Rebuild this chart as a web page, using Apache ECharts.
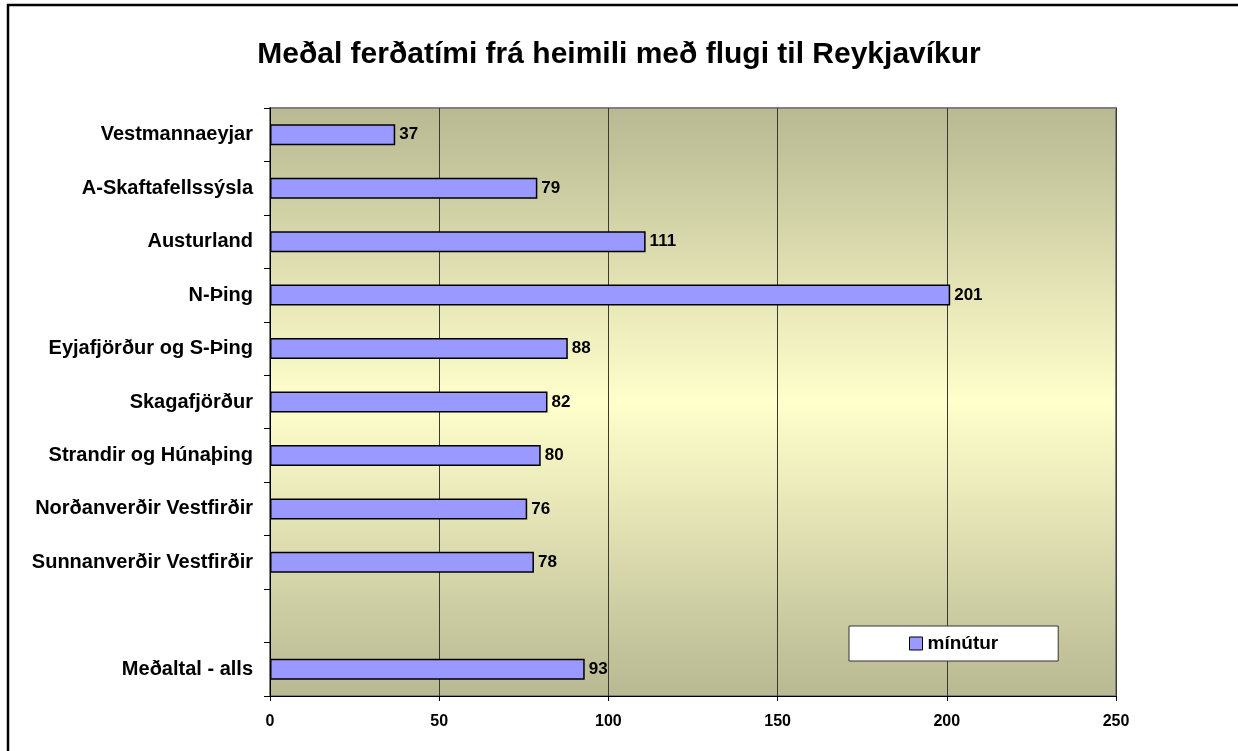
<!DOCTYPE html>
<html>
<head>
<meta charset="utf-8">
<script src="https://cdn.jsdelivr.net/npm/echarts@6/dist/echarts.min.js"></script>
<style>
html,body{margin:0;padding:0;background:#fff;}
#chart{width:1238px;height:751px;}
</style>
</head>
<body>
<div id="chart"></div>
<script>
const titleText = 'Meðal ferðatími frá heimili með flugi til Reykjavíkur';
const categories = ['Vestmannaeyjar','A-Skaftafellssýsla','Austurland','N-Þing','Eyjafjörður og S-Þing','Skagafjörður','Strandir og Húnaþing','Norðanverðir Vestfirðir','Sunnanverðir Vestfirðir','','Meðaltal - alls'];
const minutes = [37,79,111,201,88,82,80,76,78,null,93];
const seriesName = 'mínútur';
const xTicks = {min:0, max:250, interval:50};

const FONT = '"Liberation Sans", Arial, sans-serif';
const chart = echarts.init(document.getElementById('chart'), null, {renderer:'canvas'});
chart.setOption({
  animation:false,
  backgroundColor:'#ffffff',
  graphic:[{type:'rect', silent:true, z:-1, shape:{x:8,y:5,width:1300,height:800}, style:{fill:'none', stroke:'#000', lineWidth:2.5}}],
  title:{text:titleText, left:'center', top:35, textStyle:{fontFamily:FONT, fontWeight:'bold', fontSize:30, color:'#000'}},
  legend:{
    data:[seriesName], left:849, top:626, orient:'horizontal',
    backgroundColor:'#fff', borderColor:'#333', borderWidth:1, padding:[8,60,8,60],
    itemWidth:13, itemHeight:13, itemGap:5, icon:'rect',
    itemStyle:{color:'#9999FF', borderColor:'#000', borderWidth:1},
    textStyle:{fontFamily:FONT, fontWeight:'bold', fontSize:19, color:'#000', padding:[0,0,0,0]}
  },
  grid:{left:270, right:122, top:108, bottom:55, show:true, borderColor:'#808080', borderWidth:2,
    backgroundColor:{type:'linear', x:0, y:0, x2:0, y2:1, colorStops:[{offset:0,color:'#B8B892'},{offset:0.5,color:'#FFFFCC'},{offset:1,color:'#B8B892'}]}},
  xAxis:{type:'value', min:xTicks.min, max:xTicks.max, interval:xTicks.interval,
    axisLine:{show:true, lineStyle:{color:'#000', width:1}},
    axisTick:{show:true, length:5, lineStyle:{color:'#000'}},
    axisLabel:{margin:18, fontFamily:FONT, fontWeight:'bold', fontSize:16, color:'#000'},
    splitLine:{show:true, lineStyle:{color:'#3a3a34', width:1}}
  },
  yAxis:{type:'category', data:categories, inverse:true,
    axisLine:{show:true, lineStyle:{color:'#000', width:1}},
    axisTick:{show:true, length:6, lineStyle:{color:'#000'}},
    axisLabel:{margin:17, fontFamily:FONT, fontWeight:'bold', fontSize:20, color:'#000'},
    splitLine:{show:false}
  },
  series:[{
    name:seriesName, type:'bar', data:minutes, barWidth:21,
    itemStyle:{color:'#9999FF', borderColor:'#000', borderWidth:1.5},
    label:{show:true, position:'right', distance:4, fontFamily:FONT, fontWeight:'bold', fontSize:17, color:'#000'}
  }]
});
</script>
</body>
</html>
